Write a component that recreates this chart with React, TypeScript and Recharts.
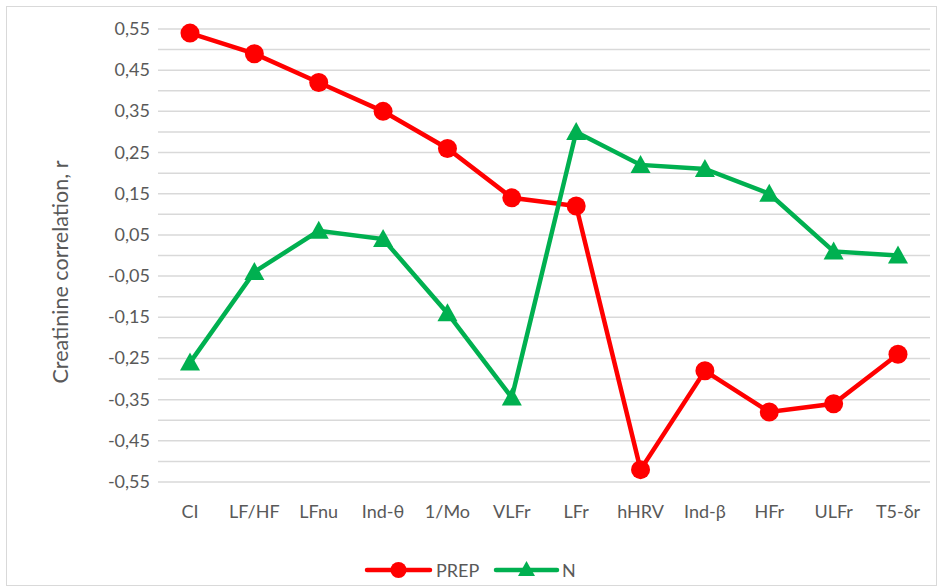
import React from "react";
import { LineChart, Line, XAxis, YAxis, CartesianGrid, Legend, Label } from "recharts";

const categories = ["CI", "LF/HF", "LFnu", "Ind-θ", "1/Mo", "VLFr", "LFr", "hHRV", "Ind-β", "HFr", "ULFr", "T5-δr"];
const prepValues = [0.54, 0.49, 0.42, 0.35, 0.26, 0.14, 0.12, -0.52, -0.28, -0.38, -0.36, -0.24];
const nValues = [-0.26, -0.04, 0.06, 0.04, -0.14, -0.345, 0.3, 0.22, 0.21, 0.15, 0.01, 0.0];
const yTicks = [0.55, 0.5, 0.45, 0.4, 0.35, 0.3, 0.25, 0.2, 0.15, 0.1, 0.05, 0, -0.05, -0.1, -0.15, -0.2, -0.25, -0.3, -0.35, -0.4, -0.45, -0.5, -0.55];
const yLabelTicks = ["0,55", "0,45", "0,35", "0,25", "0,15", "0,05", "-0,05", "-0,15", "-0,25", "-0,35", "-0,45", "-0,55"];

const data = categories.map((c, i) => ({ name: c, PREP: prepValues[i], N: nValues[i] }));

const FONT = "Lato, 'Open Sans', sans-serif";
const TEXT = "#595959";
const RED = "#FF0000";
const GREEN = "#00B050";

const fmt = (v: number) => {
  const s = Math.abs(v).toFixed(2).replace(".", ",");
  return (v < -1e-9 ? "-" : "") + s;
};

const YTick = (props: any) => {
  const { x, y, payload } = props;
  const label = fmt(payload.value);
  if (!yLabelTicks.includes(label)) return null;
  return (
    <text x={x} y={y} dy={6} textAnchor="end" fill={TEXT} fontSize={18} fontFamily={FONT}>
      {label}
    </text>
  );
};

const Triangle = (props: any) => {
  const { cx, cy } = props;
  if (cx == null || cy == null) return null;
  return <path d={`M${cx},${cy - 10} L${cx + 10},${cy + 8} L${cx - 10},${cy + 8} Z`} fill={GREEN} />;
};

const Circle = (props: any) => {
  const { cx, cy } = props;
  if (cx == null || cy == null) return null;
  return <circle cx={cx} cy={cy} r={9.5} fill={RED} />;
};

const YTitle = () => (
  <text
    x={0}
    y={0}
    transform="translate(68,272) rotate(-90)"
    textAnchor="middle"
    fill={TEXT}
    fontSize={21.5}
    fontFamily={FONT}
  >
    Creatinine correlation, r
  </text>
);

const LegendContent = () => (
  <svg width={939} height={30}>
    <g fontFamily={FONT} fontSize={18} fill={TEXT}>
      <line x1={367} y1={15} x2={430} y2={15} stroke={RED} strokeWidth={4.5} strokeLinecap="round" />
      <circle cx={398.5} cy={15} r={8} fill={RED} />
      <text x={436} y={21.5}>PREP</text>
      <line x1={496} y1={15} x2={557} y2={15} stroke={GREEN} strokeWidth={4.5} strokeLinecap="round" />
      <path d={`M526.5,6 L535,21 L518,21 Z`} fill={GREEN} />
      <text x={562} y={21.5}>N</text>
    </g>
  </svg>
);

export default function App() {
  return (
    <div style={{ position: "absolute", left: 0, top: 0, width: 939, height: 587, background: "#fff" }}>
      <div style={{ position: "absolute", left: 6, top: 6, width: 931, height: 580, border: "1.5px solid #D9D9D9", boxSizing: "border-box" }} />
      <LineChart width={939} height={587} data={data} margin={{ top: 29, right: 9, bottom: 75, left: 0 }}>
        <CartesianGrid vertical={false} stroke="#D9D9D9" strokeWidth={1.5} />
        <XAxis
          dataKey="name"
          axisLine={false}
          tickLine={false}
          padding={{ left: 32, right: 32 }}
          height={30}
          tickMargin={17}
          interval={0}
          tick={{ fill: TEXT, fontSize: 18, fontFamily: FONT }}
        />
        <YAxis
          type="number"
          domain={[-0.55, 0.55]}
          ticks={yTicks}
          interval={0}
          width={158}
          axisLine={false}
          tickLine={false}
          tick={<YTick />}
        >
          <Label content={<YTitle />} />
        </YAxis>
        <Legend verticalAlign="middle" wrapperStyle={{ top: 555, left: 0, width: 939 }} content={<LegendContent />} />
        <Line dataKey="PREP" stroke={RED} strokeWidth={4.5} dot={<Circle />} activeDot={false} isAnimationActive={false} />
        <Line dataKey="N" stroke={GREEN} strokeWidth={4.5} dot={<Triangle />} activeDot={false} isAnimationActive={false} />
      </LineChart>
    </div>
  );
}
